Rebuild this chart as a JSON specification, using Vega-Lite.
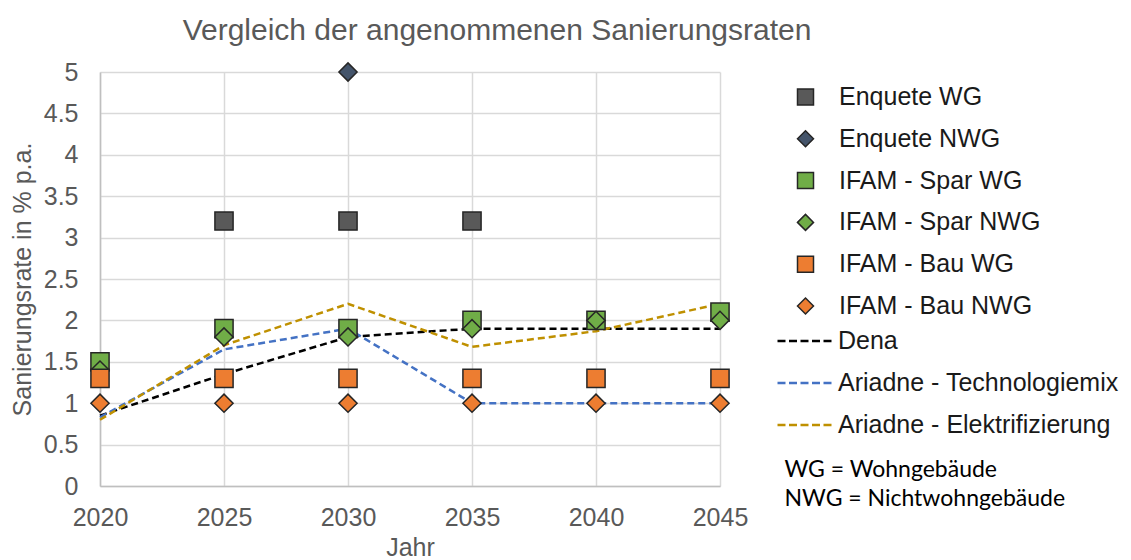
{
  "$schema": "https://vega.github.io/schema/vega-lite/v6.json",
  "width": 620,
  "height": 414,
  "autosize": {"type": "none"},
  "padding": {"left": 100, "top": 72, "right": 411, "bottom": 74},
  "background": "white",
  "title": {
    "text": "Vergleich der angenommenen Sanierungsraten",
    "font": "Liberation Sans",
    "fontSize": 30,
    "fontWeight": "normal",
    "color": "#595959",
    "anchor": "middle",
    "dx": 87,
    "offset": -10,
    "baseline": "alphabetic"
  },
  "config": {
    "font": "Liberation Sans",
    "view": {"stroke": null},
    "axis": {
      "labelFont": "Liberation Sans",
      "labelFontSize": 25,
      "labelColor": "#595959",
      "titleFont": "Liberation Sans",
      "titleFontSize": 25,
      "titleColor": "#595959",
      "titleFontWeight": "normal",
      "ticks": false,
      "domainColor": "#bfbfbf",
      "domainWidth": 1.5,
      "gridColor": "#d9d9d9",
      "gridWidth": 1.5,
      "labelFlush": false,
      "labelOverlap": false
    },
    "legend": {
      "labelFont": "Liberation Sans",
      "labelFontSize": 25,
      "labelColor": "#1a1a1a",
      "labelLimit": 400,
      "padding": 0,
      "symbolStrokeColor": "#262626",
      "symbolStrokeWidth": 1.5
    }
  },
  "datasets": {
    "linien": [
      {"reihe": "Dena", "jahr": 2020, "wert": 0.85},
      {"reihe": "Dena", "jahr": 2025, "wert": 1.35},
      {"reihe": "Dena", "jahr": 2030, "wert": 1.8},
      {"reihe": "Dena", "jahr": 2035, "wert": 1.9},
      {"reihe": "Dena", "jahr": 2040, "wert": 1.9},
      {"reihe": "Dena", "jahr": 2045, "wert": 1.9},
      {"reihe": "Ariadne - Technologiemix", "jahr": 2020, "wert": 0.83},
      {"reihe": "Ariadne - Technologiemix", "jahr": 2025, "wert": 1.65},
      {"reihe": "Ariadne - Technologiemix", "jahr": 2030, "wert": 1.9},
      {"reihe": "Ariadne - Technologiemix", "jahr": 2035, "wert": 1.0},
      {"reihe": "Ariadne - Technologiemix", "jahr": 2040, "wert": 1.0},
      {"reihe": "Ariadne - Technologiemix", "jahr": 2045, "wert": 1.0},
      {"reihe": "Ariadne - Elektrifizierung", "jahr": 2020, "wert": 0.8},
      {"reihe": "Ariadne - Elektrifizierung", "jahr": 2025, "wert": 1.7},
      {"reihe": "Ariadne - Elektrifizierung", "jahr": 2030, "wert": 2.2},
      {"reihe": "Ariadne - Elektrifizierung", "jahr": 2035, "wert": 1.68},
      {"reihe": "Ariadne - Elektrifizierung", "jahr": 2040, "wert": 1.87},
      {"reihe": "Ariadne - Elektrifizierung", "jahr": 2045, "wert": 2.2}
    ],
    "punkte": [
      {"reihe": "Enquete WG", "jahr": 2025, "wert": 3.2},
      {"reihe": "Enquete WG", "jahr": 2030, "wert": 3.2},
      {"reihe": "Enquete WG", "jahr": 2035, "wert": 3.2},
      {"reihe": "Enquete NWG", "jahr": 2030, "wert": 5.0},
      {"reihe": "IFAM - Spar WG", "jahr": 2020, "wert": 1.5},
      {"reihe": "IFAM - Spar WG", "jahr": 2025, "wert": 1.9},
      {"reihe": "IFAM - Spar WG", "jahr": 2030, "wert": 1.9},
      {"reihe": "IFAM - Spar WG", "jahr": 2035, "wert": 2.0},
      {"reihe": "IFAM - Spar WG", "jahr": 2040, "wert": 2.0},
      {"reihe": "IFAM - Spar WG", "jahr": 2045, "wert": 2.1},
      {"reihe": "IFAM - Spar NWG", "jahr": 2020, "wert": 1.4},
      {"reihe": "IFAM - Spar NWG", "jahr": 2025, "wert": 1.8},
      {"reihe": "IFAM - Spar NWG", "jahr": 2030, "wert": 1.8},
      {"reihe": "IFAM - Spar NWG", "jahr": 2035, "wert": 1.9},
      {"reihe": "IFAM - Spar NWG", "jahr": 2040, "wert": 2.0},
      {"reihe": "IFAM - Spar NWG", "jahr": 2045, "wert": 2.0},
      {"reihe": "IFAM - Bau WG", "jahr": 2020, "wert": 1.3},
      {"reihe": "IFAM - Bau WG", "jahr": 2025, "wert": 1.3},
      {"reihe": "IFAM - Bau WG", "jahr": 2030, "wert": 1.3},
      {"reihe": "IFAM - Bau WG", "jahr": 2035, "wert": 1.3},
      {"reihe": "IFAM - Bau WG", "jahr": 2040, "wert": 1.3},
      {"reihe": "IFAM - Bau WG", "jahr": 2045, "wert": 1.3},
      {"reihe": "IFAM - Bau NWG", "jahr": 2020, "wert": 1.0},
      {"reihe": "IFAM - Bau NWG", "jahr": 2025, "wert": 1.0},
      {"reihe": "IFAM - Bau NWG", "jahr": 2030, "wert": 1.0},
      {"reihe": "IFAM - Bau NWG", "jahr": 2035, "wert": 1.0},
      {"reihe": "IFAM - Bau NWG", "jahr": 2040, "wert": 1.0},
      {"reihe": "IFAM - Bau NWG", "jahr": 2045, "wert": 1.0}
    ],
    "hinweis": [
      {"text": "WG = Wohngebäude\nNWG = Nichtwohngebäude"}
    ]
  },
  "layer": [
    {
      "data": {"name": "linien"},
      "mark": {"type": "line", "strokeDash": [7, 4], "strokeWidth": 2.5},
      "encoding": {
        "x": {
          "field": "jahr", "type": "quantitative",
          "scale": {"domain": [2020, 2045], "nice": false, "zero": false},
          "axis": {"title": "Jahr", "values": [2020, 2025, 2030, 2035, 2040, 2045], "format": "d", "labelPadding": 19, "titlePadding": 5, "grid": true}
        },
        "y": {
          "field": "wert", "type": "quantitative",
          "scale": {"domain": [0, 5], "nice": false},
          "axis": {"title": "Sanierungsrate in % p.a.", "values": [0, 0.5, 1, 1.5, 2, 2.5, 3, 3.5, 4, 4.5, 5], "format": "~g", "labelPadding": 22, "titlePadding": 8, "grid": true}
        },
        "stroke": {
          "field": "reihe", "type": "nominal",
          "scale": {"domain": ["Dena", "Ariadne - Technologiemix", "Ariadne - Elektrifizierung"], "range": ["#000000", "#4472C4", "#BF9000"]},
          "legend": {"title": null, "orient": "none", "legendX": 676, "legendY": 257, "symbolType": "stroke", "symbolSize": 3025, "symbolStrokeWidth": 2.5, "symbolDash": [8, 3.5], "clipHeight": 24, "rowPadding": 17, "labelOffset": 4, "padding": 0}
        }
      }
    },
    {
      "data": {"name": "punkte"},
      "mark": {"type": "point", "filled": true, "size": 330, "stroke": "#262626", "strokeWidth": 1.5, "opacity": 1},
      "encoding": {
        "x": {"field": "jahr", "type": "quantitative"},
        "y": {"field": "wert", "type": "quantitative"},
        "color": {
          "field": "reihe", "type": "nominal",
          "scale": {"domain": ["Enquete WG", "Enquete NWG", "IFAM - Spar WG", "IFAM - Spar NWG", "IFAM - Bau WG", "IFAM - Bau NWG"], "range": ["#595959", "#44546A", "#70AD47", "#70AD47", "#ED7D31", "#ED7D31"]},
          "legend": {"title": null, "orient": "none", "legendX": 693, "legendY": 13, "symbolSize": 256, "symbolStrokeColor": "#262626", "symbolStrokeWidth": 1.5, "rowPadding": 16.8, "labelOffset": 21, "padding": 0, "clipHeight": 24,
            "encode": {"symbols": {"update": {"stroke": {"value": "#262626"}, "strokeWidth": {"value": 1.5}}}}}
        },
        "shape": {
          "field": "reihe", "type": "nominal",
          "scale": {"domain": ["Enquete WG", "Enquete NWG", "IFAM - Spar WG", "IFAM - Spar NWG", "IFAM - Bau WG", "IFAM - Bau NWG"], "range": ["square", "diamond", "square", "diamond", "square", "diamond"]},
          "legend": {"title": null, "orient": "none", "legendX": 693, "legendY": 13, "symbolSize": 256, "symbolStrokeColor": "#262626", "symbolStrokeWidth": 1.5, "rowPadding": 16.8, "labelOffset": 21, "padding": 0, "clipHeight": 24,
            "encode": {"symbols": {"update": {"stroke": {"value": "#262626"}, "strokeWidth": {"value": 1.5}}}}}
        }
      }
    },
    {
      "data": {"name": "hinweis"},
      "mark": {"type": "text", "align": "left", "baseline": "alphabetic", "lineBreak": "\n", "lineHeight": 29, "fontSize": 23, "font": "Lato", "color": "#000000", "clip": false},
      "encoding": {
        "x": {"datum": 2047.6, "type": "quantitative"},
        "y": {"datum": 0.11, "type": "quantitative"},
        "text": {"field": "text", "type": "nominal"}
      }
    }
  ]
}
